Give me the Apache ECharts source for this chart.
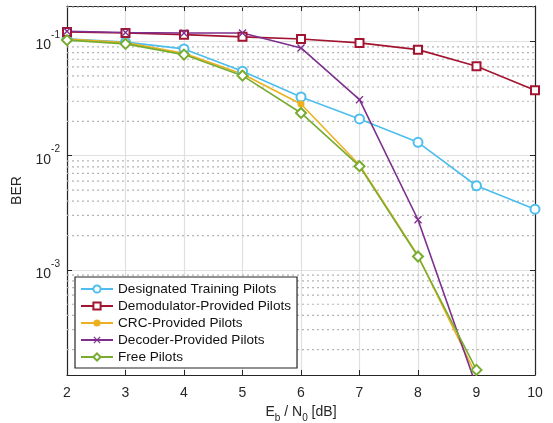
<!DOCTYPE html>
<html>
<head>
<meta charset="utf-8">
<script src="https://cdn.jsdelivr.net/npm/echarts@6/dist/echarts.min.js"></script>
<style>
  html, body { margin: 0; padding: 0; background: #fff; }
  #chart { width: 553px; height: 423px; }
</style>
</head>
<body>
<div id="chart"></div>
<script>
// Eb/N0 sweep in dB
const ebN0 = [2, 3, 4, 5, 6, 7, 8, 9, 10];

// Bit error rate per pilot scheme (null = no point simulated)
const designatedTraining = [0.106, 0.099, 0.0863, 0.055, 0.0327, 0.021, 0.0131, 0.00546, 0.0034];
const demodulatorProvided = [0.1216, 0.119, 0.115, 0.110, 0.1055, 0.0974, 0.085, 0.0607, 0.0374];
const crcProvided = [0.105, 0.098, 0.079, 0.052, 0.0284, 0.0083, 0.00133, 0.000118, null];
const decoderProvided = [0.123, 0.120, 0.119, 0.119, 0.088, 0.031, 0.00275, 0.000095, null];
const freePilots = [0.103, 0.0955, 0.0769, 0.0503, 0.0237, 0.0081, 0.00131, 0.000133, null];

const seriesNames = [
  'Designated Training Pilots',
  'Demodulator-Provided Pilots',
  'CRC-Provided Pilots',
  'Decoder-Provided Pilots',
  'Free Pilots'
];

// Minor gridlines of the logarithmic BER axis
const minorGrid = [
  0.0002, 0.0003, 0.0004, 0.0005, 0.0006, 0.0007, 0.0008, 0.0009,
  0.002, 0.003, 0.004, 0.005, 0.006, 0.007, 0.008, 0.009,
  0.02, 0.03, 0.04, 0.05, 0.06, 0.07, 0.08, 0.09, 0.2
];

const axisColor = '#262626';
const font = 'Liberation Sans, Arial, Helvetica, sans-serif';
const xCross = 'path://M0,1.2L1.2,0L5,3.8L8.8,0L10,1.2L6.2,5L10,8.8L8.8,10L5,6.2L1.2,10L0,8.8L3.8,5Z';

function pairs(arr) {
  return ebN0.map((x, i) => [x, arr[i]]).filter(p => p[1] != null);
}

// Horizontal dotted segments spanning the x range, separated by gaps
function gridSegments(values) {
  const out = [];
  values.forEach(v => {
    out.push([ebN0[0], v], [ebN0[ebN0.length - 1], v], [ebN0[ebN0.length - 1], '-']);
  });
  return out;
}

function decadeLabel(v) {
  const e = Math.log10(v);
  if (Math.abs(e - Math.round(e)) > 1e-6) return '';
  return '{b|10}{s|' + Math.round(e) + '}';
}

const yRange = { min: 0.00012, max: 0.205 };

const chart = echarts.init(document.getElementById('chart'));

const lineStyle = (c) => ({ color: c, width: 1.6 });

chart.setOption({
  animation: false,
  backgroundColor: '#fff',
  textStyle: { fontFamily: font },
  grid: { left: 67, right: 18, top: 6, bottom: 48, containLabel: false, outerBoundsMode: 'none' },
  legend: {
    orient: 'vertical',
    left: 75,
    top: 277,
    padding: [5, 6, 4, 5],
    itemGap: 3,
    itemWidth: 32,
    itemHeight: 9,
    backgroundColor: '#fff',
    borderColor: axisColor,
    borderWidth: 1.2,
    textStyle: { fontFamily: font, fontSize: 13.6, color: '#111' },
    data: seriesNames
  },
  xAxis: [{
    type: 'value',
    min: 2, max: 10, interval: 1,
    name: '{n|E}{sub|b}{n| / N}{sub|0}{n| [dB]}',
    nameLocation: 'middle',
    nameGap: 30,
    nameTextStyle: {
      rich: {
        n: { fontSize: 14, color: axisColor, fontFamily: font, lineHeight: 18, verticalAlign: 'top' },
        sub: { fontSize: 10, color: axisColor, fontFamily: font, lineHeight: 18, verticalAlign: 'bottom', padding: [8, 0, 0, 0] }
      }
    },
    axisLine: { show: true, onZero: false, lineStyle: { color: axisColor, width: 1.2 } },
    axisTick: { inside: true, length: 5, lineStyle: { color: axisColor } },
    axisLabel: { fontSize: 14, color: axisColor, margin: 11, fontFamily: font },
    splitLine: { show: true, lineStyle: { color: '#e0e0e0', width: 1.2 } }
  }, {
    type: 'value',
    position: 'top',
    min: 2, max: 10, interval: 1,
    axisLine: { show: true, onZero: false, lineStyle: { color: axisColor, width: 1.2 } },
    axisTick: { inside: true, length: 5, lineStyle: { color: axisColor } },
    axisLabel: { show: false },
    splitLine: { show: false }
  }],
  yAxis: [{
    type: 'log',
    logBase: 10,
    min: yRange.min, max: yRange.max,
    name: 'BER',
    nameLocation: 'middle',
    nameGap: 38,
    nameTextStyle: { fontSize: 14, color: axisColor, fontFamily: font },
    axisLine: { show: true, onZero: false, lineStyle: { color: axisColor, width: 1.2 } },
    axisTick: { inside: true, length: 5, lineStyle: { color: axisColor } },
    axisLabel: {
      showMinLabel: false, showMaxLabel: false, margin: 7,
      formatter: decadeLabel,
      rich: {
        b: { fontSize: 14, color: axisColor, fontFamily: font, lineHeight: 22, verticalAlign: 'bottom' },
        s: { fontSize: 10, color: axisColor, fontFamily: font, lineHeight: 22, verticalAlign: 'top', padding: [0, 0, 8, 0] }
      }
    },
    splitLine: { show: true, lineStyle: { color: '#e0e0e0', width: 1.2 } }
  }, {
    type: 'log',
    logBase: 10,
    position: 'right',
    min: yRange.min, max: yRange.max,
    axisLine: { show: true, onZero: false, lineStyle: { color: axisColor, width: 1.2 } },
    axisTick: { inside: true, length: 5, lineStyle: { color: axisColor } },
    axisLabel: { show: false },
    splitLine: { show: false }
  }],
  series: [
    {
      name: '_minorGrid',
      type: 'line',
      data: gridSegments(minorGrid),
      z: 1,
      silent: true,
      symbol: 'none',
      connectNulls: false,
      lineStyle: { type: [2, 3], color: '#b4b4b4', width: 1.2 },
      tooltip: { show: false }
    },
    {
      name: seriesNames[0], type: 'line', data: pairs(designatedTraining),
      symbol: 'emptyCircle', symbolSize: 9,
      lineStyle: lineStyle('#4DBEEE'), itemStyle: { color: '#4DBEEE', borderWidth: 1.4 }
    },
    {
      name: seriesNames[1], type: 'line', data: pairs(demodulatorProvided),
      symbol: 'emptyRect', symbolSize: 8,
      lineStyle: lineStyle('#A2142F'), itemStyle: { color: '#A2142F', borderWidth: 1.6 }
    },
    {
      name: seriesNames[2], type: 'line', data: pairs(crcProvided),
      symbol: 'circle', symbolSize: 7,
      lineStyle: lineStyle('#EDB120'), itemStyle: { color: '#EDB120' }
    },
    {
      name: seriesNames[3], type: 'line', data: pairs(decoderProvided),
      symbol: xCross, symbolSize: 8,
      lineStyle: lineStyle('#7E2F8E'), itemStyle: { color: '#7E2F8E' }
    },
    {
      name: seriesNames[4], type: 'line', data: pairs(freePilots),
      symbol: 'emptyDiamond', symbolSize: 10,
      lineStyle: lineStyle('#77AC30'), itemStyle: { color: '#77AC30', borderWidth: 1.4 }
    }
  ]
});
</script>
</body>
</html>
